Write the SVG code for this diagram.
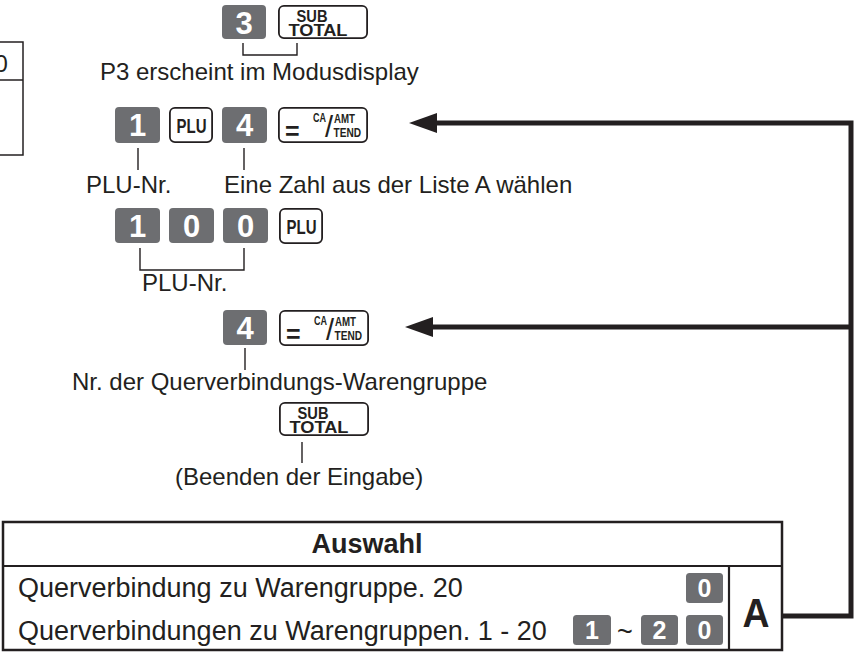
<svg xmlns="http://www.w3.org/2000/svg" width="854" height="652" viewBox="0 0 854 652">
<style>
text{font-family:"Liberation Sans",Arial,Helvetica,sans-serif;fill:#231f20}
.t{font-size:24px}
.tb{font-size:27px}
.g{fill:#6d6e71}
.w{fill:#fff;stroke:#231f20;stroke-width:1.8}
.d{font-size:31px;font-weight:bold;fill:#fff;text-anchor:middle}
.ds{font-size:25px;font-weight:bold;fill:#fff;text-anchor:middle}
.k{font-weight:bold}
.ln{fill:none;stroke:#231f20;stroke-width:1.4}
.tl{fill:none;stroke:#231f20;stroke-width:2.2}
.ar{fill:none;stroke:#231f20;stroke-width:5;stroke-linejoin:miter}
</style>
<defs>
<marker id="ah" viewBox="0 0 28 20" refX="0" refY="10" markerWidth="28" markerHeight="20" markerUnits="userSpaceOnUse" orient="auto">
<path d="M0,0 L28,10 L0,20 Z" fill="#231f20"/>
</marker>
<g id="caKey">
<rect class="w" x="0.9" y="0.9" width="88.2" height="34.2" rx="5"/>
<text x="7" y="33" style="font-size:25px;font-weight:bold">=</text>
<text x="35" y="14.5" class="k" style="font-size:12px" textLength="13" lengthAdjust="spacingAndGlyphs">CA</text>
<text x="47" y="29.5" style="font-size:29px">/</text>
<text x="56" y="16" class="k" style="font-size:12px" textLength="21" lengthAdjust="spacingAndGlyphs">AMT</text>
<text x="55.5" y="30" class="k" style="font-size:12px" textLength="27.5" lengthAdjust="spacingAndGlyphs">TEND</text>
</g>
<g id="subKey">
<rect class="w" x="0.9" y="0.9" width="88.2" height="32.2" rx="5"/>
<text x="18.5" y="16.5" class="k" style="font-size:16.5px" textLength="31" lengthAdjust="spacingAndGlyphs">SUB</text>
<text x="10.5" y="30.5" class="k" style="font-size:16.5px" textLength="59" lengthAdjust="spacingAndGlyphs">TOTAL</text>
</g>
<g id="pluKey">
<rect class="w" x="0.9" y="0.9" width="42.2" height="34.2" rx="5"/>
<text x="7.5" y="25.5" class="k" style="font-size:20px" textLength="30" lengthAdjust="spacingAndGlyphs">PLU</text>
</g>
</defs>
<rect width="854" height="652" fill="#fff"/>

<g id="fragment">
<rect x="-10" y="42" width="33" height="113" fill="none" stroke="#231f20" stroke-width="1.5"/>
<line x1="-10" y1="80" x2="23" y2="80" stroke="#231f20" stroke-width="1.5"/>
<text x="-5.5" y="72" class="t">0</text>
</g>

<g id="step1">
<rect class="g" x="222" y="5" width="44" height="34" rx="4"/>
<text class="d" x="244" y="33.5">3</text>
<use href="#subKey" x="278" y="5"/>
<text class="t" x="100" y="80">P3 erscheint im Modusdisplay</text>
</g>

<g id="step2">
<rect class="g" x="115" y="107" width="45" height="36" rx="4"/>
<text class="d" x="137.5" y="136">1</text>
<use href="#pluKey" x="169" y="107"/>
<rect class="g" x="222" y="107" width="45" height="36" rx="4"/>
<text class="d" x="244.5" y="136">4</text>
<use href="#caKey" x="278" y="107"/>
<text class="t" x="86" y="193">PLU-Nr.</text>
<text class="t" x="224" y="193">Eine Zahl aus der Liste A wählen</text>
</g>

<g id="step3">
<rect class="g" x="115" y="208" width="45" height="35" rx="4"/>
<text class="d" x="137.5" y="236.5">1</text>
<rect class="g" x="169" y="208" width="45" height="35" rx="4"/>
<text class="d" x="191.5" y="236.5">0</text>
<rect class="g" x="223" y="208" width="45" height="35" rx="4"/>
<text class="d" x="245.5" y="236.5">0</text>
<use href="#pluKey" x="279" y="208"/>
<text class="t" x="142" y="291">PLU-Nr.</text>
</g>

<g id="step4">
<rect class="g" x="223" y="310" width="44" height="35" rx="4"/>
<text class="d" x="245" y="338.5">4</text>
<use href="#caKey" x="279" y="310"/>
<text class="t" x="72" y="390">Nr. der Querverbindungs-Warengruppe</text>
</g>

<g id="step5">
<use href="#subKey" x="279" y="402"/>
<text class="t" x="175" y="485">(Beenden der Eingabe)</text>
</g>

<g id="table">
<rect x="3" y="522" width="779" height="128" fill="none" stroke="#231f20" stroke-width="2.5"/>
<line x1="3" y1="566" x2="782" y2="566" class="tl"/>
<line x1="729" y1="566" x2="729" y2="650" class="tl"/>
<text class="tb k" x="367" y="553" text-anchor="middle">Auswahl</text>
<text class="tb" x="18" y="597">Querverbindung zu Warengruppe. 20</text>
<text class="tb" x="18" y="640">Querverbindungen zu Warengruppen. 1 - 20</text>
<rect class="g" x="686" y="573" width="37" height="30" rx="3.5"/>
<text class="ds" x="704.5" y="597">0</text>
<rect class="g" x="573" y="615" width="38" height="30" rx="3.5"/>
<text class="ds" x="592" y="639">1</text>
<text class="tb" x="617" y="641">~</text>
<rect class="g" x="641" y="615" width="37" height="30" rx="3.5"/>
<text class="ds" x="659.5" y="639">2</text>
<rect class="g" x="686" y="615" width="37" height="30" rx="3.5"/>
<text class="ds" x="704.5" y="639">0</text>
<text x="756" y="627" text-anchor="middle" class="k" style="font-size:41px" textLength="27" lengthAdjust="spacingAndGlyphs">A</text>
</g>

<g id="connectors">
<path class="ln" d="M243,43 V55 H297 V43"/>
<path class="ln" d="M138,148 V170"/>
<path class="ln" d="M244,148 V170"/>
<path class="ln" d="M140,248 V270 H244 V248"/>
<path class="ln" d="M245,348 V370"/>
<path class="ln" d="M302,442 V463"/>
<path class="ar" d="M783,616 H851 V123 H437" marker-end="url(#ah)"/>
<path class="ar" d="M851,327 H433" marker-end="url(#ah)"/>
</g>
</svg>
